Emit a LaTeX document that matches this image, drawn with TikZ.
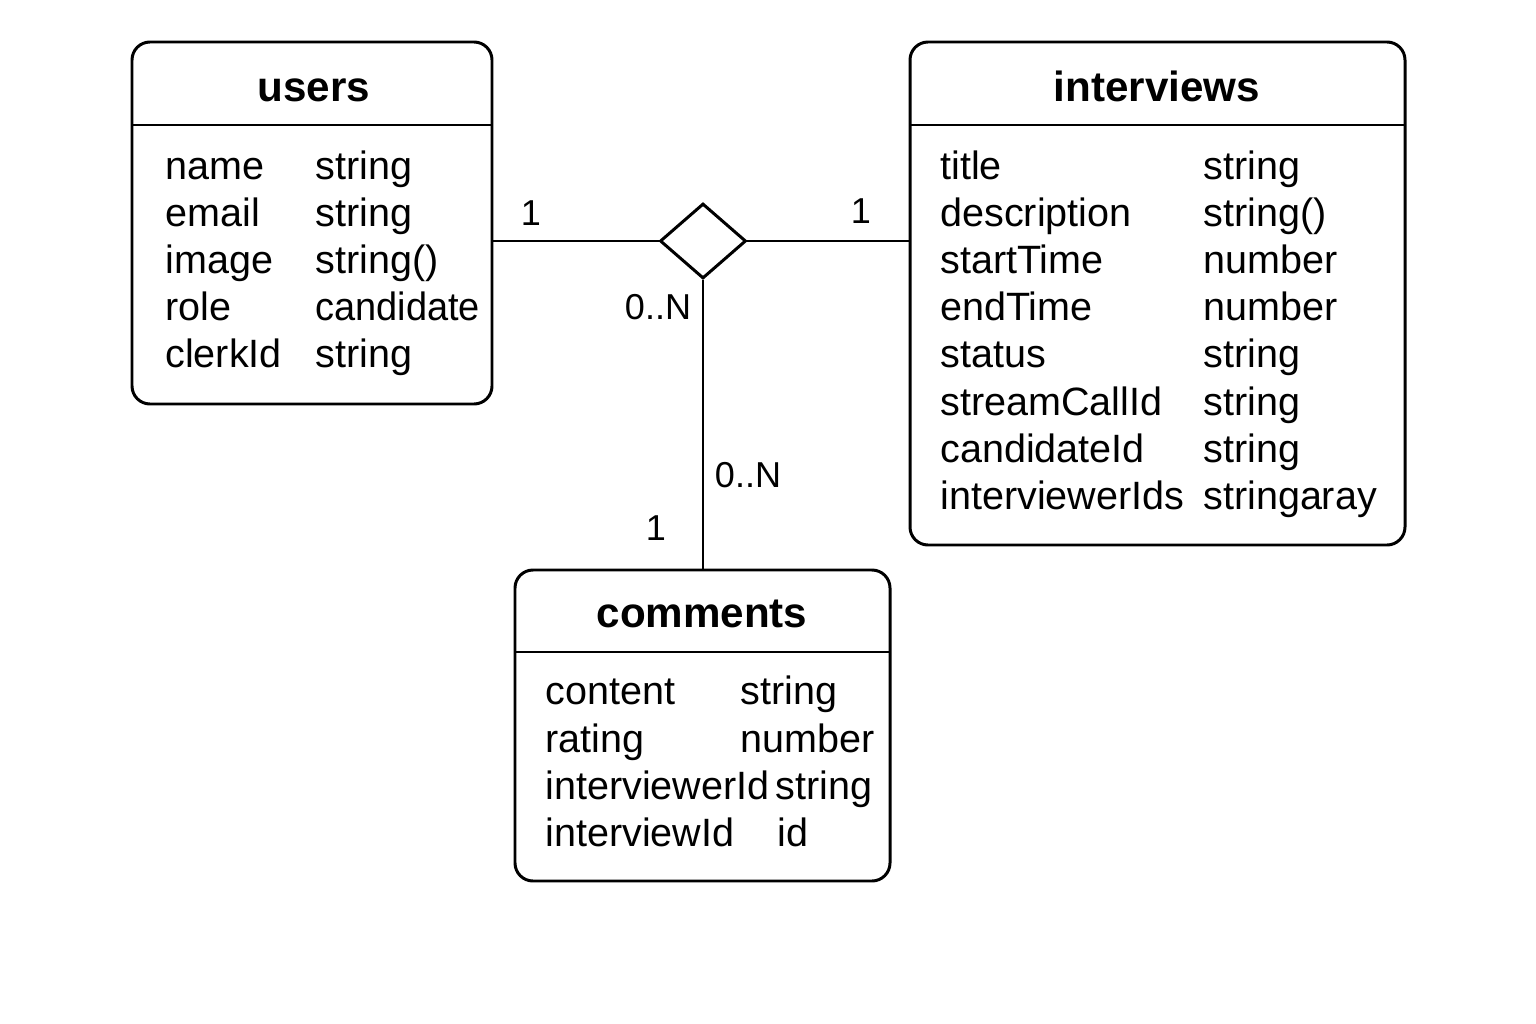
\documentclass[tikz,border=0pt]{standalone}
\usepackage{fontspec}
\setmainfont{Liberation Sans}
\usetikzlibrary{shapes.geometric}
\begin{document}
\begin{tikzpicture}[x=0.02cm,y=-0.02cm,
  ent/.style={draw,line width=1.7pt,rounded corners=0.36cm},
  sep/.style={line width=1.7pt},
  conn/.style={line width=1.7pt},
  ttl/.style={font=\fontsize{24}{28}\selectfont\bfseries,inner sep=0pt,anchor=base},
  fld/.style={font=\fontsize{22.5}{27}\selectfont,anchor=mid west,inner sep=0pt,yshift=-4.5pt},
  lbl/.style={font=\fontsize{20.5}{24}\selectfont,inner sep=0pt}]
\useasboundingbox (0,0) rectangle (1536,1024);
% users
\draw[ent] (132,42) rectangle (492,404);
\draw[sep] (132,125) -- (492,125);
\node[ttl] (ut) at (314,102) {users};
\node[fld] (u1a) at (165,167) {name};
\node[fld] (u1b) at (315,167) {string};
\node[fld] (u2a) at (165,214) {email};
\node[fld] (u2b) at (315,214) {string};
\node[fld] (u3a) at (165,261) {image};
\node[fld] (u3b) at (315,261) {string()};
\node[fld] (u4a) at (165,308) {role};
\node[fld] (u4b) at (315,308) {\scalebox{0.96}[1]{candidate}};
\node[fld] (u5a) at (165,355) {clerkId};
\node[fld] (u5b) at (315,355) {string};
\coordinate (uR) at (492,241);
% interviews
\draw[ent] (910,42) rectangle (1405,545);
\draw[sep] (910,125) -- (1405,125);
\node[ttl] (it) at (1157,102) {interviews};
\node[fld] (i1a) at (940,167) {title};
\node[fld] (i1b) at (1203,167) {string};
\node[fld] (i2a) at (940,214) {description};
\node[fld] (i2b) at (1203,214) {string()};
\node[fld] (i3a) at (940,261) {startTime};
\node[fld] (i3b) at (1203,261) {number};
\node[fld] (i4a) at (940,308) {endTime};
\node[fld] (i4b) at (1203,308) {number};
\node[fld] (i5a) at (940,355) {status};
\node[fld] (i5b) at (1203,355) {string};
\node[fld] (i6a) at (940,403) {streamCallId};
\node[fld] (i6b) at (1203,403) {string};
\node[fld] (i7a) at (940,450) {candidateId};
\node[fld] (i7b) at (1203,450) {string};
\node[fld] (i8a) at (940,497) {interviewerIds};
\node[fld] (i8b) at (1203,497) {stringaray};
\coordinate (iL) at (910,241);
% comments
\draw[ent] (515,570) rectangle (890,881);
\draw[sep] (515,652) -- (890,652);
\node[ttl] (ct) at (702,627) {comments};
\node[fld] (c1a) at (545,692) {content};
\node[fld] (c1b) at (740,692) {string};
\node[fld] (c2a) at (545,740) {rating};
\node[fld] (c2b) at (740,740) {number};
\node[fld] (c3a) at (545,787) {interviewerId};
\node[fld] (c3b) at (775,787) {string};
\node[fld] (c4a) at (545,834) {interviewId};
\node[fld] (c4b) at (777,834) {id};
\coordinate (cT) at (703,570);
% diamond
\node[draw,diamond,line width=1.7pt,minimum width=1.72cm,minimum height=1.5cm,inner sep=0pt] (rel) at (703,241) {};
\draw[conn] (uR) -- (rel.west);
\draw[conn] (rel.east) -- (iL);
\draw[conn] (rel.south) -- (cT);
% labels
\node[lbl] (l1) at (531,213) {1};
\node[lbl] (l2) at (861,211) {1};
\node[lbl] (l3) at (658,307) {0..N};
\node[lbl] (l4) at (748,475) {0..N};
\node[lbl] (l5) at (656,528) {1};
\end{tikzpicture}
\end{document}
